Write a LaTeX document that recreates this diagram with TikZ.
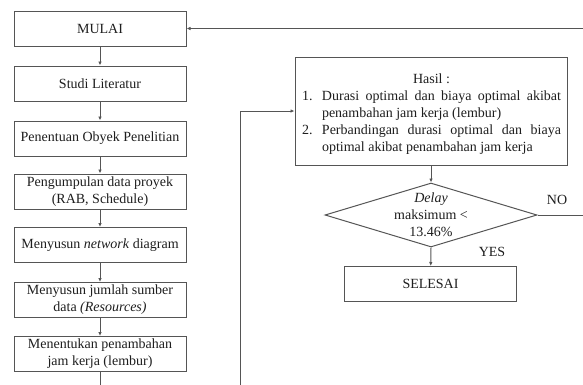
\documentclass[tikz,border=0pt]{standalone}
\usepackage{fontspec}
\setmainfont{Liberation Serif}
\usetikzlibrary{shapes.geometric,arrows.meta}
\definecolor{ln}{RGB}{85,85,85}
\definecolor{tx}{RGB}{30,30,30}
\tikzset{
  box/.style={draw=ln,line width=1pt,minimum width=172pt,minimum height=35pt,inner sep=2pt,align=center,text=tx,font=\fontsize{14}{17}\selectfont},
  conn/.style={draw=ln,line width=1pt,-{Latex[length=4pt,width=3.5pt]}},
  lbl/.style={text=tx,font=\fontsize{14}{17}\selectfont,inner sep=0pt}
}
\begin{document}
\begin{tikzpicture}[x=1pt,y=-1pt]
\useasboundingbox[fill=white] (0,0) rectangle (583,384);
\clip (0,0) rectangle (583,384);
\node[box] (mulai) at (100,28.5) {MULAI};
\node[box] (studi) at (100,83.5) {Studi Literatur};
\node[box] (obyek) at (100,138.5) {Penentuan Obyek Penelitian};
\node[box] (data) at (100,191.5) {Pengumpulan data proyek\\(RAB, Schedule)};
\node[box] (net) at (100,245) {Menyusun \textit{network} diagram};
\node[box] (res) at (100,300) {Menyusun jumlah sumber\\data \textit{(Resources)}};
\node[box] (lembur) at (100,354) {Menentukan penambahan\\jam kerja (lembur)};
\node[box,minimum width=272pt,minimum height=108pt] (hasil) at (431,111) {};
\node[lbl,text width=259pt,align=justify] (hasiltxt) at (431.5,114) {%
{\centering Hasil :\par}%
\hangindent=20pt\hangafter=1\noindent\hbox to 20pt{1.\hfil}Durasi optimal dan biaya optimal akibat\linebreak penambahan jam kerja (lembur)\par
\hangindent=20pt\hangafter=1\noindent\hbox to 20pt{2.\hfil}Perbandingan durasi optimal dan biaya\linebreak optimal akibat penambahan jam kerja\par};
\node[diamond,draw=ln,line width=1pt,minimum width=212pt,minimum height=64pt,inner sep=0pt] (dec) at (431,215) {};
\node[lbl,align=center] (dectxt) at (dec.center) {\textit{Delay}\\maksimum <\\13.46\%};
\node[box] (selesai) at (430.5,284) {SELESAI};
\node[lbl] (no) at (557,200) {NO};
\node[lbl] (yes) at (492,252) {YES};
\coordinate (bl) at (100,392);
\coordinate (br) at (240,392);
\coordinate (tr) at (592,28.5);
\draw[conn] (mulai) -- (studi);
\draw[conn] (studi) -- (obyek);
\draw[conn] (obyek) -- (data);
\draw[conn] (data) -- (net);
\draw[conn] (net) -- (res);
\draw[conn] (res) -- (lembur);
\draw[conn] (lembur.south) -- (bl) -- (br) |- (hasil.west);
\draw[conn] (hasil) -- (dec.north);
\draw[conn] (dec.south) -- (selesai);
\draw[conn] (dec.east) -| (tr) -- (mulai.east);
\end{tikzpicture}
\end{document}
